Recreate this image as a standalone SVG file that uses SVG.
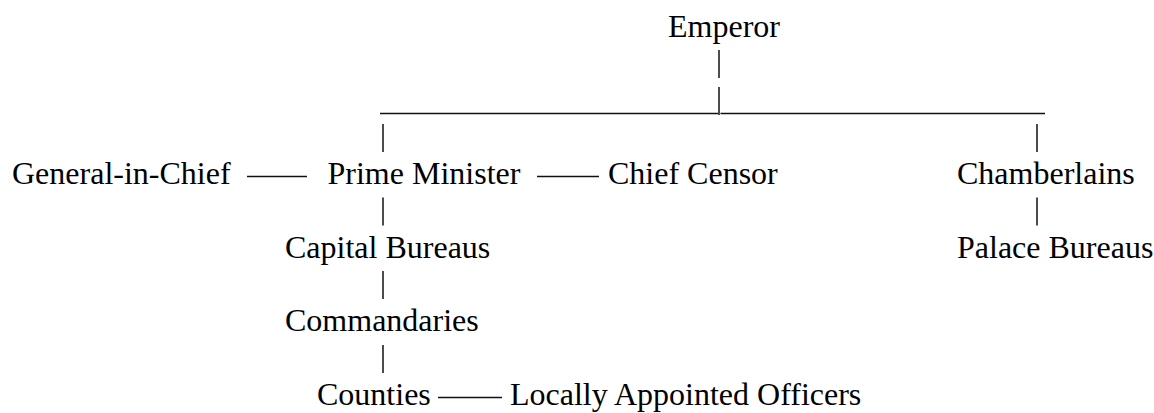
<svg xmlns="http://www.w3.org/2000/svg" width="1154" height="413" viewBox="0 0 1154 413">
  <style>
    text { font-family: 'Liberation Serif', 'Times New Roman', Times, serif; font-size: 32px; fill: #000; }
    .v { stroke: #111; stroke-width: 1.5; fill: none; }
    .h { stroke: #111; stroke-width: 1.5; fill: none; }
  </style>
  <rect width="1154" height="413" fill="#fff"/>
  <g id="connectors">
    <line class="v" x1="719" y1="50" x2="719" y2="78"/>
    <line class="v" x1="719" y1="87" x2="719" y2="115"/>
    <line class="h" x1="380" y1="113.5" x2="718" y2="113.5"/>
    <line class="h" x1="720.5" y1="113.5" x2="1045" y2="113.5"/>
    <line class="v" x1="383" y1="124" x2="383" y2="152"/>
    <line class="v" x1="1037" y1="124" x2="1037" y2="152"/>
    <line class="h" x1="247" y1="176.5" x2="307" y2="176.5"/>
    <line class="h" x1="537" y1="176.5" x2="599" y2="176.5"/>
    <line class="v" x1="383" y1="197.5" x2="383" y2="225.5"/>
    <line class="v" x1="1037" y1="197.5" x2="1037" y2="225.5"/>
    <line class="v" x1="383" y1="271" x2="383" y2="299"/>
    <line class="v" x1="383" y1="345" x2="383" y2="373"/>
    <line class="h" x1="438" y1="397.5" x2="502" y2="397.5"/>
  </g>
  <g id="emperor"><text x="668" y="37">Emperor</text></g>
  <g id="general"><text x="12" y="184.2">General-in-Chief</text></g>
  <g id="prime-minister"><text x="327.5" y="184.2">Prime Minister</text></g>
  <g id="chief-censor"><text x="608" y="184.2">Chief Censor</text></g>
  <g id="chamberlains"><text x="957" y="184.2">Chamberlains</text></g>
  <g id="capital-bureaus"><text x="285" y="257.8">Capital Bureaus</text></g>
  <g id="palace-bureaus"><text x="957" y="257.8">Palace Bureaus</text></g>
  <g id="commandaries"><text x="285" y="331.4">Commandaries</text></g>
  <g id="counties"><text x="317" y="405">Counties</text></g>
  <g id="local-officers"><text x="510" y="405">Locally Appointed Officers</text></g>
</svg>
